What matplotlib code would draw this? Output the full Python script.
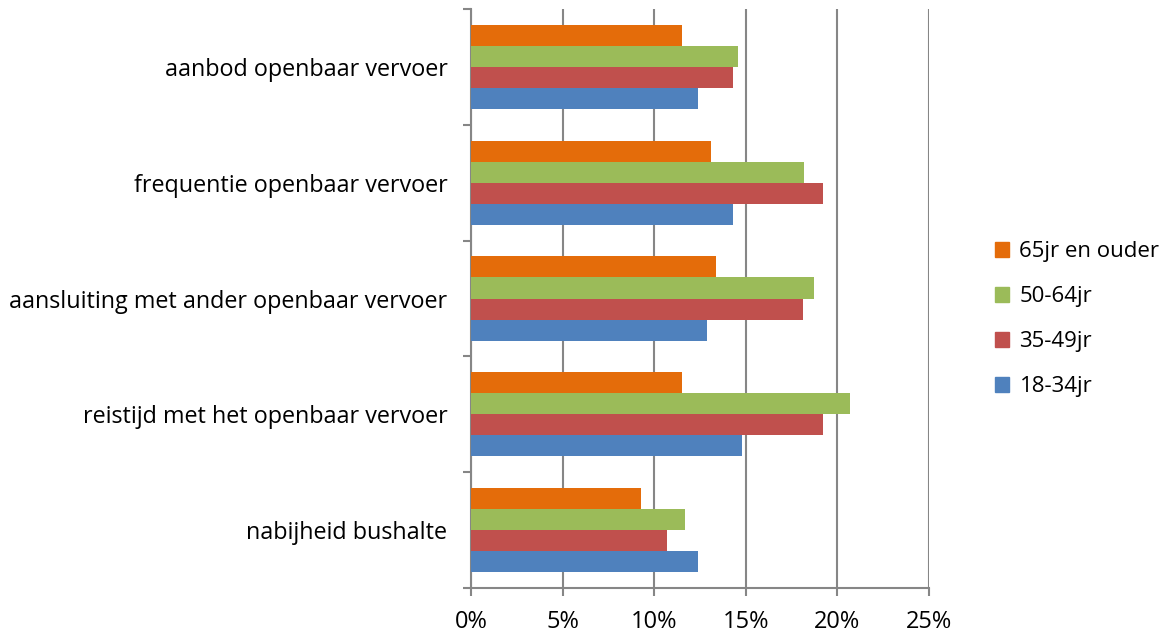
import matplotlib
matplotlib.use("Agg")
import matplotlib.pyplot as plt
import numpy as np
from matplotlib.ticker import FuncFormatter, FixedLocator
from matplotlib.patches import Patch

categories = ["nabijheid bushalte",
              "reistijd met het openbaar vervoer",
              "aansluiting met ander openbaar vervoer",
              "frequentie openbaar vervoer",
              "aanbod openbaar vervoer"]
series_names = ["18-34jr", "35-49jr", "50-64jr", "65jr en ouder"]
v_18_34 = [12.4, 14.8, 12.9, 14.3, 12.4]
v_35_49 = [10.7, 19.2, 18.1, 19.2, 14.3]
v_50_64 = [11.7, 20.7, 18.7, 18.2, 14.6]
v_65plus = [9.3, 11.5, 13.4, 13.1, 11.5]
series_values = [v_18_34, v_35_49, v_50_64, v_65plus]
colors = ["#4F81BD", "#C0504D", "#9BBB59", "#E46C0A"]
xticks = [0, 5, 10, 15, 20, 25]

plt.rcParams['font.family'] = ['Open Sans', 'DejaVu Sans']
fig = plt.figure(figsize=(11.68, 6.37), dpi=100)
ax = fig.add_axes([471/1168, 49/637, (929-471)/1168, (588-9)/637])

n = len(series_values)
h = 0.182
y = np.arange(len(categories))
for i, (vals, c, name) in enumerate(zip(series_values, colors, series_names)):
    offs = (i - (n - 1) / 2) * h
    ax.barh(y + offs, vals, height=h, color=c, label=name, zorder=3)

ax.set_xlim(0, 25)
ax.set_ylim(-0.5, len(categories) - 0.5)
ax.set_xticks(xticks)
ax.xaxis.set_major_formatter(FuncFormatter(lambda v, p: f"{int(v)}%"))
ax.grid(axis='x', color='#868686', linewidth=1.5, zorder=0)
ax.set_yticks(y)
ax.set_yticklabels(categories)
ax.yaxis.set_minor_locator(FixedLocator(np.arange(-0.5, len(categories), 1)))
ax.tick_params(axis='y', which='major', length=0, pad=17, labelsize=16.8)
ax.tick_params(axis='y', which='minor', length=6, width=1.5, color='#868686')
ax.tick_params(axis='x', length=6, width=1.5, color='#868686', labelsize=17, pad=10)
for s in ['top', 'right']:
    ax.spines[s].set_visible(False)
for s in ['left', 'bottom']:
    ax.spines[s].set_color('#868686')
    ax.spines[s].set_linewidth(1.5)

handles = [Patch(color=c) for c in colors][::-1]
labels = series_names[::-1]
fig.legend(handles, labels, loc='center left', bbox_to_anchor=(975/1168, 318/637),
           frameon=False, fontsize=16, handlelength=0.65, handleheight=0.65,
           labelspacing=1.08, handletextpad=0.45)

fig.savefig("out.png", dpi=100)
